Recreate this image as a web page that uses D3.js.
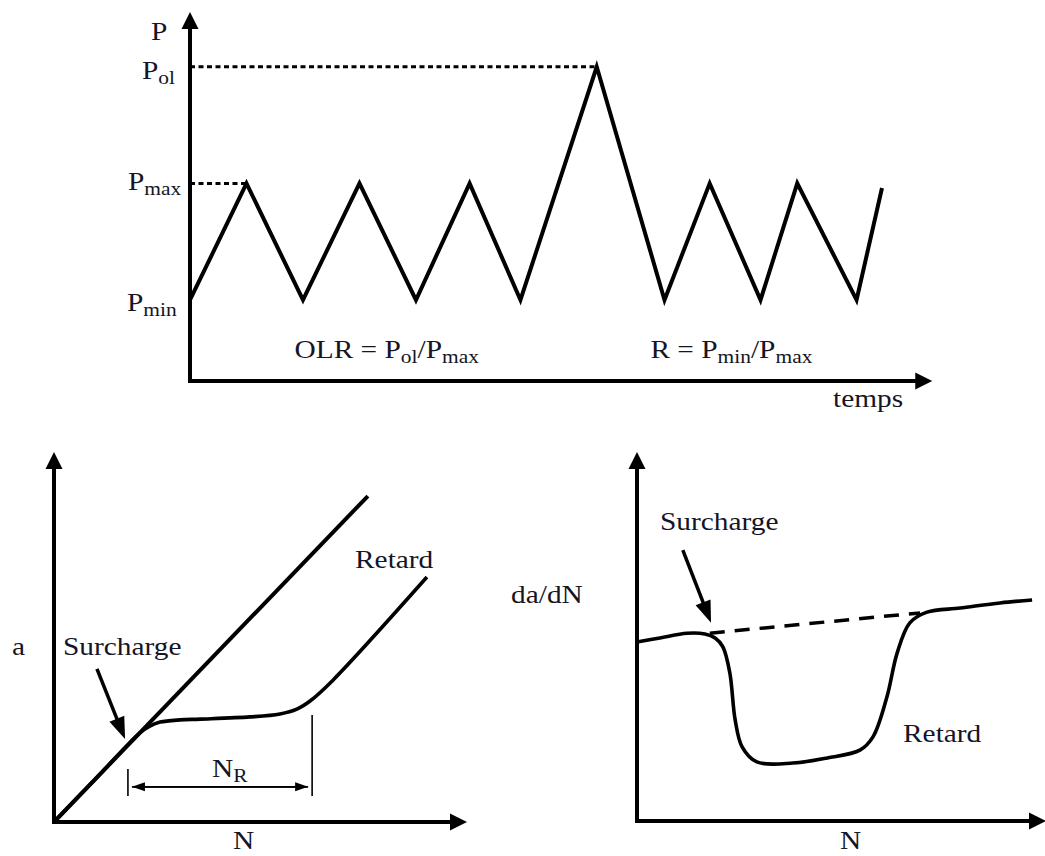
<!DOCTYPE html>
<html><head><meta charset="utf-8">
<script src="https://cdn.jsdelivr.net/npm/d3@7"></script>
<style>html,body{margin:0;padding:0;background:#fff;} svg{display:block;}</style>
</head><body>
<svg id="chart" width="1045" height="856"></svg>
<script>
// ================= DATA =================
// Top panel: load history P(t)
const loadTime  = [0, 1, 2, 3, 4, 4.95, 5.85, 7.2, 8.4, 9.2, 10.1, 10.75, 11.8, 12.25];
const loadValue = [1, 2, 1, 2, 1, 2,    1,    3,   1,   2,   1,    2,     1,    1.96];
const levelValues = [1, 2, 3];                 // Pmin, Pmax, Pol
const levelLabels = [["P","min"], ["P","max"], ["P","ol"]];
const levelLineEnds = [null, 1, 7.2];          // dotted guide reaches this time
const topFormulas = [
  {t: 1.85, parts: [["OLR = P"], ["ol", 1], ["/P"], ["max", 1]]},
  {t: 8.15, parts: [["R = P"], ["min", 1], ["/P"], ["max", 1]]}
];

// Bottom-left panel: crack length a vs N
const baseN = [0, 76];
const baseA = [0, 88.1];
const retN = [0, 10.4, 20.8, 23.2, 25.7, 30.5, 35.4, 47.5, 54.7, 58.8, 62.0, 67.6, 90.3];
const retA = [0, 12.05, 24.1, 25.9, 27.0, 27.6, 27.8, 28.4, 29.2, 30.5, 32.7, 38.4, 66.2];
const nrBounds = [17.9, 62.5];
const nrTickTop = [14.3, 28.9];
const nrTickBottom = 7.0;
const nrArrowA = 9.5;
const blArrowFrom = [10.4, 41.4], blArrowTo = [17.2, 22.4];

// Bottom-right panel: da/dN vs N
const rateN = [0, 5.6, 12.2, 16.6, 19.1, 21.0, 22.7, 24.0, 25.7, 29.3, 38.1, 46.5, 54.5, 57.7, 61.1, 63.6, 66.7, 70.9, 79.0, 88.8, 96.6];
const rateV = [48.5, 49.6, 50.9, 50.7, 49.6, 47.2, 40.1, 27.4, 20.1, 16.0, 15.7, 17.1, 19.2, 22.8, 33.6, 45.5, 53.7, 56.6, 57.7, 59.1, 59.9];
const refN = [17.8, 69.2];
const refV = [50.9, 56.4];
const brArrowFrom = [11.2, 73.4], brArrowTo = [18.1, 53.7];

// ================= DRAWING =================
const svg = d3.select("#chart");
const INK = "#000";
const TXT = "#151525";
const FONT = "'Liberation Serif','Times New Roman',serif";
const SX = 1.13;

function arrowHead(g, tip, from, L, W) {
  const dx = tip[0]-from[0], dy = tip[1]-from[1];
  const len = Math.hypot(dx, dy), ux = dx/len, uy = dy/len;
  const bx = tip[0]-ux*L, by = tip[1]-uy*L;
  const px = -uy*W/2, py = ux*W/2;
  g.append("path")
    .attr("d", `M${tip[0]},${tip[1]}L${bx+px},${by+py}L${bx-px},${by-py}Z`)
    .attr("fill", INK);
}
function arrowLine(g, from, tip, L, W, sw) {
  const dx = tip[0]-from[0], dy = tip[1]-from[1];
  const len = Math.hypot(dx, dy);
  const end = [tip[0]-dx/len*(L-2), tip[1]-dy/len*(L-2)];
  g.append("path").attr("d", d3.line()([from, end]))
    .attr("stroke", INK).attr("stroke-width", sw).attr("fill", "none");
  arrowHead(g, tip, from, L, W);
}
function label(g, x, y, parts, size) {
  size = size || 26;
  const t = g.append("text")
    .attr("transform", `translate(${x},${y}) scale(${SX},1)`)
    .attr("font-family", FONT).attr("font-size", size).attr("fill", TXT);
  let sub = false;
  parts.forEach(p => {
    const isSub = !!p[1];
    const ts = t.append("tspan").text(p[0]);
    if (isSub) { ts.attr("font-size", size*0.73); if (!sub) ts.attr("dy", 5); }
    else if (sub) ts.attr("dy", -5);
    sub = isSub;
  });
  return t;
}

// ---------- Top panel ----------
const gT = svg.append("g");
const xT = d3.scaleLinear().domain([0, 13.1]).range([190, 930]);
const yT = d3.scaleLinear().domain([0.305, 3.47]).range([381, 12]);
const x0T = xT(0), y0T = yT(0.305);

levelValues.forEach((v, i) => {
  if (levelLineEnds[i] == null) return;
  gT.append("path").attr("d", d3.line()([[x0T, yT(v)], [xT(levelLineEnds[i]), yT(v)]]))
    .attr("stroke", INK).attr("stroke-width", 3).attr("stroke-dasharray", "5,3.5").attr("fill", "none");
});
gT.append("path")
  .datum(loadTime.map((t, i) => [t, loadValue[i]]))
  .attr("d", d3.line().x(d => xT(d[0])).y(d => yT(d[1])))
  .attr("fill", "none").attr("stroke", INK).attr("stroke-width", 4).attr("stroke-linejoin", "miter");
gT.append("path").attr("d", d3.line()([[x0T, y0T], [x0T, yT(3.47) + 14]]))
  .attr("stroke", INK).attr("stroke-width", 4).attr("stroke-linecap", "square");
arrowHead(gT, [x0T, yT(3.47)], [x0T, y0T], 17, 17);
gT.append("path").attr("d", d3.line()([[x0T, y0T], [xT(13.14) - 15, y0T]]))
  .attr("stroke", INK).attr("stroke-width", 4).attr("stroke-linecap", "square");
arrowHead(gT, [xT(13.14), y0T], [x0T, y0T], 17, 17);
label(gT, 151, 40, [["P"]]);
label(gT, 142, yT(3) + 12, [["P"], ["ol", 1]]);
label(gT, 128, yT(2) + 7, [["P"], ["max", 1]]);
label(gT, 127, yT(1) + 11, [["P"], ["min", 1]]);
topFormulas.forEach(f => label(gT, xT(f.t), 358, f.parts));
label(gT, 833, 407, [["temps"]]);

// ---------- Bottom-left panel ----------
const gL = svg.append("g");
const xL = d3.scaleLinear().domain([0, 100]).range([54, 467]);
const yL = d3.scaleLinear().domain([0, 100]).range([822, 452]);
const lineL = d3.line().x(d => xL(d[0])).y(d => yL(d[1]));
const curveL = d3.line().x(d => xL(d[0])).y(d => yL(d[1])).curve(d3.curveCatmullRom.alpha(0.5));
gL.append("path").datum(baseN.map((n, i) => [n, baseA[i]])).attr("d", lineL)
  .attr("fill", "none").attr("stroke", INK).attr("stroke-width", 4);
gL.append("path").datum(retN.map((n, i) => [n, retA[i]])).attr("d", curveL)
  .attr("fill", "none").attr("stroke", INK).attr("stroke-width", 3.6);
gL.append("path").attr("d", d3.line()([[xL(0), yL(0)], [xL(0), yL(100) + 14]]))
  .attr("stroke", INK).attr("stroke-width", 4).attr("stroke-linecap", "square");
arrowHead(gL, [xL(0), yL(100)], [xL(0), yL(0)], 17, 17);
gL.append("path").attr("d", d3.line()([[xL(0), yL(0)], [xL(100) - 15, yL(0)]]))
  .attr("stroke", INK).attr("stroke-width", 4).attr("stroke-linecap", "square");
arrowHead(gL, [xL(100), yL(0)], [xL(0), yL(0)], 17, 17);
nrBounds.forEach((n, i) => {
  gL.append("path").attr("d", d3.line()([[xL(n), yL(nrTickBottom)], [xL(n), yL(nrTickTop[i])]]))
    .attr("stroke", INK).attr("stroke-width", 1.6);
});
arrowLine(gL, [xL(nrBounds[0]) + 4, yL(nrArrowA)], [xL(nrBounds[1]) - 4, yL(nrArrowA)], 13, 9, 1.6);
arrowLine(gL, [xL(nrBounds[1]) - 4, yL(nrArrowA)], [xL(nrBounds[0]) + 4, yL(nrArrowA)], 13, 9, 1.6);
label(gL, 212, 777, [["N"], ["R", 1]]);
arrowLine(gL, [xL(blArrowFrom[0]), yL(blArrowFrom[1])], [xL(blArrowTo[0]), yL(blArrowTo[1])], 22, 16, 3.5);
label(gL, 12, 655, [["a"]]);
label(gL, 63, 655, [["Surcharge"]]);
label(gL, 355, 568, [["Retard"]]);
label(gL, 233, 849, [["N"]]);

// ---------- Bottom-right panel ----------
const gR = svg.append("g");
const xR = d3.scaleLinear().domain([0, 100]).range([637, 1046]);
const yR = d3.scaleLinear().domain([0, 100]).range([821, 452]);
gR.append("path").datum(refN.map((n, i) => [n, refV[i]]))
  .attr("d", d3.line().x(d => xR(d[0])).y(d => yR(d[1])))
  .attr("fill", "none").attr("stroke", INK).attr("stroke-width", 3.5).attr("stroke-dasharray", "15,10");
gR.append("path").datum(rateN.map((n, i) => [n, rateV[i]]))
  .attr("d", d3.line().x(d => xR(d[0])).y(d => yR(d[1])).curve(d3.curveCatmullRom.alpha(0.5)))
  .attr("fill", "none").attr("stroke", INK).attr("stroke-width", 3.6);
gR.append("path").attr("d", d3.line()([[xR(0), yR(0)], [xR(0), yR(100) + 14]]))
  .attr("stroke", INK).attr("stroke-width", 4).attr("stroke-linecap", "square");
arrowHead(gR, [xR(0), yR(100)], [xR(0), yR(0)], 17, 17);
gR.append("path").attr("d", d3.line()([[xR(0), yR(0)], [xR(100) - 15, yR(0)]]))
  .attr("stroke", INK).attr("stroke-width", 4).attr("stroke-linecap", "square");
arrowHead(gR, [xR(100), yR(0)], [xR(0), yR(0)], 17, 17);
arrowLine(gR, [xR(brArrowFrom[0]), yR(brArrowFrom[1])], [xR(brArrowTo[0]), yR(brArrowTo[1])], 22, 16, 3.5);
label(gR, 511, 603, [["da/dN"]]);
label(gR, 660, 530, [["Surcharge"]]);
label(gR, 903, 742, [["Retard"]]);
label(gR, 840, 849, [["N"]]);
</script>
</body></html>
